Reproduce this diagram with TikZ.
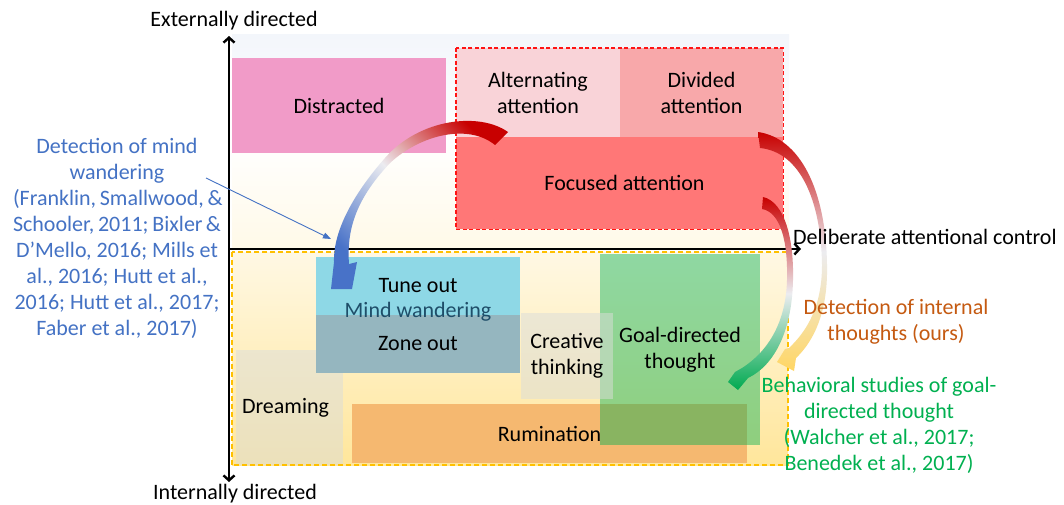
\documentclass[tikz,border=0pt]{standalone}
\usepackage{fontspec}
\setmainfont{Carlito}
\usetikzlibrary{arrows.meta}
\definecolor{cDist}{RGB}{241,155,200}
\definecolor{cAlt}{RGB}{249,211,216}
\definecolor{cDiv}{RGB}{248,168,170}
\definecolor{cFoc}{RGB}{255,119,119}
\definecolor{cTune}{RGB}{142,216,230}
\definecolor{cZone}{RGB}{149,182,191}
\definecolor{cGray}{RGB}{219,221,218}
\definecolor{cRum}{RGB}{245,184,112}
\definecolor{cGreen}{RGB}{0,176,80}
\definecolor{cBlueTxt}{RGB}{68,114,196}
\definecolor{cOrangeTxt}{RGB}{197,90,17}
\definecolor{cGreenTxt}{RGB}{0,176,80}
\definecolor{cMind}{RGB}{31,78,105}
\definecolor{cYBorder}{RGB}{255,192,0}
\definecolor{cRBorder}{RGB}{255,20,20}
\definecolor{cArrRed}{RGB}{200,0,0}
\definecolor{cArrBlue}{RGB}{72,114,200}
\definecolor{cArrMid}{RGB}{236,236,240}
\definecolor{cArrYel}{RGB}{255,214,100}
\definecolor{cArrGrn}{RGB}{0,170,80}
\definecolor{cBgTop}{RGB}{243,246,251}
\definecolor{cBgBot}{RGB}{255,249,232}
\definecolor{cYTop}{RGB}{255,248,228}
\definecolor{cYBot}{RGB}{255,230,155}
\begin{document}
\begin{tikzpicture}[x=1pt,y=-1pt,
  txt/.style={font=\fontsize{22}{26}\selectfont, align=center, inner sep=0pt},
  region/.style={rectangle, draw=none, inner sep=0pt, font=\fontsize{22}{26}\selectfont, align=center, text=black},
  axisline/.style={line width=2.4pt},
  barb/.tip={Straight Barb[length=5pt,width=11pt]},
]
\useasboundingbox (0,0) rectangle (1064,504);
\fill[white] (0,0) rectangle (1064,504);
% upper background
\shade[top color=cBgTop, bottom color=cBgBot, middle color=white] (232,34) rectangle (789,248);
% upper regions
\node[region, fill=cDist, minimum width=214pt, minimum height=95pt] (dist) at (339,105.5) {Distracted};
\node[region, fill=cAlt, minimum width=164pt, minimum height=89pt] (alt) at (538,92.5) {Alternating\\attention};
\node[region, fill=cDiv, minimum width=163pt, minimum height=89pt] (div) at (701.5,92.5) {Divided\\attention};
\node[region, fill=cFoc, minimum width=327pt, minimum height=92pt] (foc) at (619.5,183) {\hspace*{10pt}Focused attention};
\draw[draw=cRBorder, line width=1.4pt, dash pattern=on 4pt off 2.5pt] (alt.north west) rectangle (foc.south east);
% lower regions
\node[region, minimum width=556pt, minimum height=213pt, top color=cYTop, bottom color=cYBot] (ybox) at (510,358.5) {};
\node[region, fill=cGray, fill opacity=0.5, text opacity=1, minimum width=107pt, minimum height=115pt] (dream) at (289.5,407.5) {Dreaming\hspace*{8pt}};
\node[region, fill=cTune, minimum width=204pt, minimum height=58pt] (tune) at (418,286) {Tune out};
\node[region, fill=cZone, minimum width=204pt, minimum height=58pt] (zone) at (418,344) {Zone out};
\node[region, fill=cRum, minimum width=395pt, minimum height=59pt] (rum) at (549.5,433.5) {Rumination};
\node[region, fill=cGreen, fill opacity=0.44, text opacity=1, minimum width=160pt, minimum height=191pt] (goal) at (680,349.5) {Goal-directed\\thought};
\node[region, fill=cGray, fill opacity=0.5, text opacity=1, minimum width=92pt, minimum height=86pt] (creat) at (567,356) {Creative\\thinking};
\node[txt, text=cMind] (mind) at (418,312) {Mind wandering};
\draw[draw=cYBorder, line width=1.5pt, dash pattern=on 5pt off 3pt] (ybox.north west) rectangle (ybox.south east);
% axes
\coordinate (O) at (229,249);
\coordinate (ytop) at (229,36);
\coordinate (ybot) at (229,482);
\coordinate (xend) at (801,249);
\draw[axisline, barb-barb] (ybot) -- (ytop);
\draw[axisline, -barb] (O) -- (xend);
% big curved arrows
\shade[top color=cArrRed, bottom color=cArrBlue, middle color=cArrMid, shading angle=-45]
 (508,132) .. controls (480,112) and (420,118) .. (385,158)
 .. controls (355,192) and (333,230) .. (334,262)
 -- (331,289) -- (352,289) -- (357,262) -- (349,264)
 .. controls (346,225) and (360,195) .. (390,163)
 .. controls (420,135) and (468,123) .. (495,145) -- cycle;
\shade[top color=cArrRed, bottom color=cArrYel, middle color=cArrMid]
 (758,132) .. controls (800,138) and (826,190) .. (827,265)
 .. controls (828,310) and (815,340) .. (796,358)
 -- (794,371) -- (777,362) -- (785,349) -- (789,348)
 .. controls (808,330) and (822,305) .. (822,265)
 .. controls (821,200) and (800,152) .. (760,148) -- cycle;
\shade[top color=cArrRed, bottom color=cArrGrn, middle color=cArrMid]
 (763,197) .. controls (785,202) and (794,240) .. (793,280)
 .. controls (792,330) and (775,365) .. (748,378)
 -- (738,390) -- (728,382) -- (735,372) -- (742,368)
 .. controls (770,350) and (786,320) .. (787,280)
 .. controls (788,240) and (780,212) .. (762,209) -- cycle;
% labels
\node[txt] (ext) at (234,21) {Externally directed};
\node[txt] (intd) at (235,494) {Internally directed};
\node[txt, anchor=west] (delib) at (793,237) {Deliberate attentional control};
\node[txt, text=cBlueTxt] (mwtxt) at (117,238.5) {Detection of mind\\ wandering\\ \makebox[208pt][s]{(Franklin, Smallwood, \&}\\ \makebox[208pt][s]{Schooler, 2011; Bixler \&}\\ D’Mello, 2016; Mills et\\ al., 2016; Hutt et al.,\\ 2016; Hutt et al., 2017;\\ Faber et al., 2017)};
\node[txt, text=cOrangeTxt] (ours) at (896,321.5) {Detection of internal\\ thoughts (ours)};
\node[txt, text=cGreenTxt] (beh) at (879,425) {Behavioral studies of goal-\\ directed thought\\ (Walcher et al., 2017;\\ Benedek et al., 2017)};
\coordinate (mwfrom) at (206,178);
\coordinate (mwto) at (331,239);
\draw[cBlueTxt, line width=0.9pt, -{Triangle[length=8pt,width=6pt]}] (mwfrom) -- (mwto);
\end{tikzpicture}
\end{document}
